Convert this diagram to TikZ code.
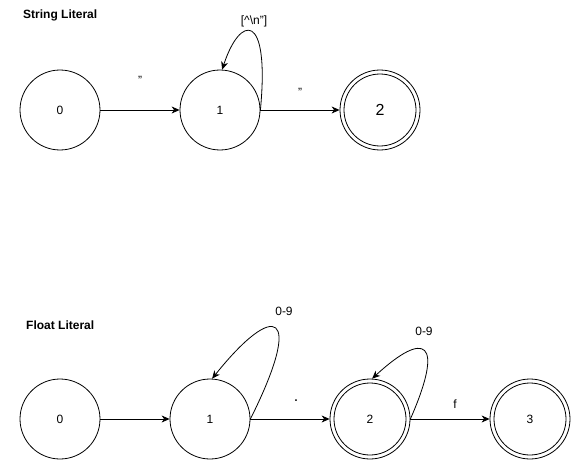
\documentclass[tikz,border=0pt]{standalone}
\usepackage{fontspec}
\setmainfont{Liberation Sans}
\usetikzlibrary{arrows.meta}
\begin{document}
\begin{tikzpicture}[x=1pt,y=-1pt,
  state/.style={circle,draw,line width=0.8pt,minimum size=80pt,inner sep=0pt,font=\fontsize{12}{14}\selectfont},
  accept/.style={state,append after command={\pgfextra{\draw[line width=0.8pt] (\tikzlastnode.center) circle (36pt);}}},
  edge/.style={line width=0.8pt,-{Stealth[length=8pt,width=7pt,inset=2.5pt]}},
  lbl/.style={font=\fontsize{12}{14}\selectfont,inner sep=0pt},
  title/.style={font=\fontsize{12}{14}\selectfont\bfseries,inner sep=0pt,anchor=west}]
\useasboundingbox (0,0) rectangle (571,460);
% String literal
\node[title] (t1) at (23,15) {String Literal};
\node[state] (s0) at (60,110) {0};
\node[state] (s1) at (220,110) {1};
\node[accept,font=\fontsize{16}{18}\selectfont] (s2) at (380,110) {2};
\draw[edge] (s0) -- (s1);
\draw[edge] (s1) -- (s2);
\draw[edge] (s1.east) .. controls (270,10) and (240,15) .. (s1.87);
\node[lbl] (ls01) at (140,80) {"};
\node[lbl] (ls12) at (300,92) {"};
\node[lbl] (ls11) at (254,21) {[\^{}\textbackslash n"]};
% Float literal
\node[title] (t2) at (26,325) {Float Literal};
\node[state] (f0) at (60,419) {0};
\node[state] (f1) at (210,419) {1};
\node[accept] (f2) at (370,419) {2};
\node[accept] (f3) at (530,419) {3};
\draw[edge] (f0) -- (f1);
\draw[edge] (f1) -- (f2);
\draw[edge] (f2) -- (f3);
\draw[edge] (f1.east) .. controls (305,310) and (275,300) .. (f1.87);
\draw[edge] (f2.east) .. controls (445,340) and (425,330) .. (f2.87);
\node[lbl] (lf11) at (284,311) {0-9};
\node[lbl] (lf22) at (424,331) {0-9};
\node[lbl,font=\fontsize{16}{18}\selectfont] (lf12) at (296,401) {.};
\node[lbl] (lf23) at (455,404) {f};
\end{tikzpicture}
\end{document}
